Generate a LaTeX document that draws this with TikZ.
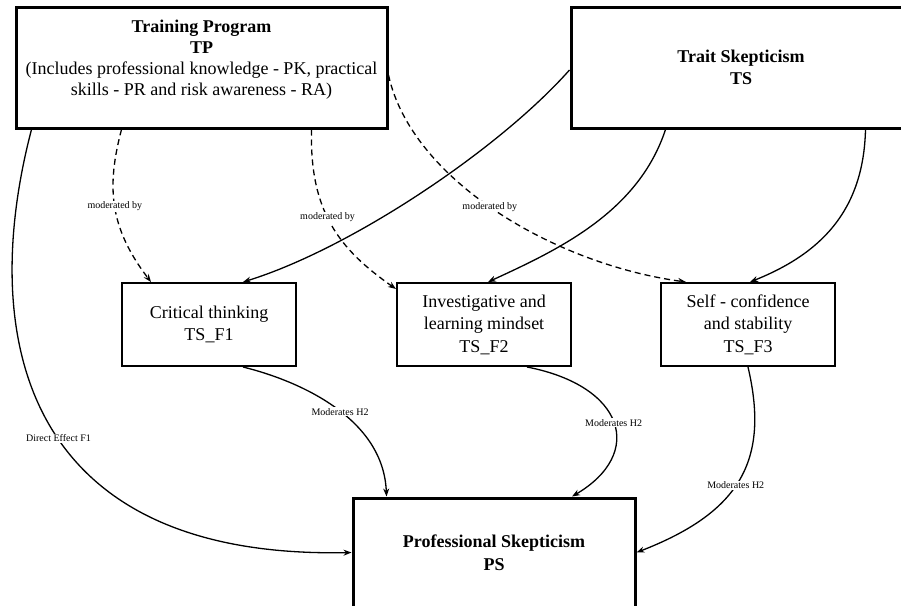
\documentclass[tikz,border=0pt]{standalone}
\usepackage{fontspec}
\setmainfont{Liberation Serif}
\usetikzlibrary{arrows.meta}

\begin{document}
\begin{tikzpicture}[x=1pt,y=-1pt,
	bigbox/.style={draw,line width=3pt,inner sep=0pt,align=center,font=\fontsize{18}{22.5}\selectfont},
	factorbox/.style={draw,line width=2pt,inner sep=0pt,align=center,minimum width=174pt,minimum height=83pt,font=\fontsize{18}{22.5}\selectfont},
	effect/.style={line width=1.3pt,-{Stealth[length=8pt,width=6pt]}},
	moderation/.style={effect,dash pattern=on 6pt off 4pt},
	lbl/.style={fill=white,inner sep=1pt,font=\fontsize{10}{12}\selectfont}]
	\useasboundingbox (0,0) rectangle (901,605);
	\clip (0,0) rectangle (901,605);
	\node[bigbox,minimum width=371pt,minimum height=121pt,font=\fontsize{18}{21}\selectfont] (tp) at (201.5,67.5) {\textbf{Training Program}\\\textbf{TP}\\(Includes professional knowledge - PK, practical\\skills - PR and risk awareness - RA)\\[-8pt]\strut};
	\node[bigbox,minimum width=340pt,minimum height=121pt] (ts) at (741,67.5) {\textbf{Trait Skepticism}\\\textbf{TS}};
	\node[factorbox] (ct) at (209,324.5) {Critical thinking\\TS\_F1};
	\node[factorbox] (ilm) at (484,324.5) {Investigative and\\learning mindset\\TS\_F2};
	\node[factorbox] (scs) at (748,324.5) {Self - confidence\\and stability\\TS\_F3};
	\node[bigbox,minimum width=282pt,minimum height=109pt] (ps) at (494,552.5) {\textbf{Professional Skepticism}\\\textbf{PS}};
	\draw[effect] ([xshift=17pt]tp.south west) .. controls +(-53,202) and +(-333,7) .. node[lbl,pos=0.54]{Direct Effect F1} (ps.west);
	\draw[moderation] ([xshift=107pt]tp.south west) .. controls +(-15,57) and +(-42,-55) .. node[lbl,pos=0.5]{moderated by} ([xshift=30pt]ct.north west);
	\draw[moderation] ([xshift=-77pt]tp.south east) .. controls +(-2,82) and +(-57,-40) .. node[lbl,pos=0.45]{moderated by} ([yshift=-7pt]ilm.north west);
	\draw[moderation] ([yshift=-7.5pt]tp.east) .. controls +(23,105) and +(-132,-18) .. node[lbl,pos=0.48]{moderated by} ([xshift=26pt]scs.north west);
	\draw[effect] ([yshift=-2.5pt]ts.west) .. controls +(-71,80) and +(107,-33) .. ([xshift=34pt]ct.north);
	\draw[effect] ([xshift=96pt]ts.south west) .. controls +(-27,82) and +(72,-33) .. ([xshift=4pt]ilm.north);
	\draw[effect] ([xshift=296pt]ts.south west) .. controls +(-2,82) and +(70,-28) .. ([xshift=2pt]scs.north);
	\draw[effect] ([xshift=34pt]ct.south) .. controls +(57,14) and +(-3,-78) .. node[lbl,pos=0.53]{Moderates H2} ([xshift=35pt]ps.north west);
	\draw[effect] ([xshift=43pt]ilm.south) .. controls +(98,19) and +(73,-43) .. node[lbl,pos=0.5]{Moderates H2} ([xshift=78pt]ps.north);
	\draw[effect] (scs.south) .. controls +(22,94) and +(103,-40) .. node[lbl,pos=0.53]{Moderates H2} (ps.east);
\end{tikzpicture}
\end{document}
